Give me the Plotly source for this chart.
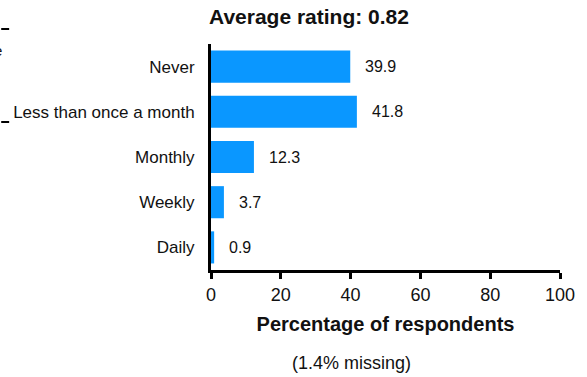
import plotly.graph_objects as go

categories = ["Never", "Less than once a month", "Monthly", "Weekly", "Daily"]
values = [39.9, 41.8, 12.3, 3.7, 0.9]
x_ticks = [0, 20, 40, 60, 80, 100]
title_text = "Average rating: 0.82"
x_title = "Percentage of respondents"
missing_note = "(1.4% missing)"

W, H = 587, 377
L, R, T, B = 211, 25, 44, 107
pw, ph = W - L - R, H - T - B

def px_x(p):
    return (p - L) / pw

def px_y(p):
    return (H - B - p) / ph

FONT = "Liberation Sans, Arial, sans-serif"

fig = go.Figure()
fig.add_trace(go.Bar(
    y=categories, x=values, orientation="h",
    marker=dict(color="#0A97FF", line=dict(width=0)),
    hoverinfo="skip",
))

annotations = []
for c, v in zip(categories, values):
    annotations.append(dict(
        x=v, y=c, xref="x", yref="y", text=f"{v:.1f}", showarrow=False,
        xanchor="left", yanchor="middle", xshift=13,
        font=dict(family=FONT, size=16, color="#111"),
    ))

annotations.append(dict(
    x=px_x(207), y=px_y(17), xref="paper", yref="paper", text=f"<b>{title_text}</b>",
    showarrow=False, xanchor="left", yanchor="middle",
    font=dict(family=FONT, size=21, color="#111"),
))
annotations.append(dict(
    x=px_x(352), y=px_y(363), xref="paper", yref="paper", text=missing_note,
    showarrow=False, xanchor="center", yanchor="middle",
    font=dict(family=FONT, size=18, color="#111"),
))
# cropped neighbouring-panel remnants at the left edge
annotations.append(dict(
    x=px_x(3), y=px_y(50), xref="paper", yref="paper", text="e",
    showarrow=False, xanchor="right", yanchor="middle",
    font=dict(family=FONT, size=15, color="#111"),
))

shapes = [
    dict(type="line", xref="paper", yref="paper", x0=px_x(0), x1=px_x(8),
         y0=px_y(29), y1=px_y(29), line=dict(color="black", width=2)),
    dict(type="line", xref="paper", yref="paper", x0=px_x(0), x1=px_x(8),
         y0=px_y(122), y1=px_y(122), line=dict(color="black", width=2)),
]

fig.update_layout(
    width=W, height=H,
    margin=dict(l=L, r=R, t=T, b=B, pad=0),
    paper_bgcolor="white", plot_bgcolor="white",
    showlegend=False, bargap=0.29,
    annotations=annotations, shapes=shapes,
    font=dict(family=FONT, color="#111"),
)
fig.update_xaxes(
    range=[0, 100], tickvals=x_ticks, ticktext=[str(t) for t in x_ticks],
    showline=True, linecolor="black", linewidth=3,
    ticks="outside", ticklen=6, tickwidth=3, tickcolor="black",
    showgrid=False, zeroline=False,
    tickfont=dict(family=FONT, size=18, color="#111"),
    title=dict(text=f"<b>{x_title}</b>", font=dict(family=FONT, size=20, color="#111"), standoff=14),
)
fig.update_yaxes(
    categoryorder="array", categoryarray=categories, autorange="reversed",
    showline=True, linecolor="black", linewidth=3,
    ticks="", showgrid=False, zeroline=False, ticklabelstandoff=10,
    tickfont=dict(family=FONT, size=17, color="#111"),
)

fig.write_html(
    "out.html",
    config={"displayModeBar": False, "staticPlot": True},
    post_script="document.body.style.margin='0';document.body.style.padding='0';document.body.style.overflow='hidden';",
)
